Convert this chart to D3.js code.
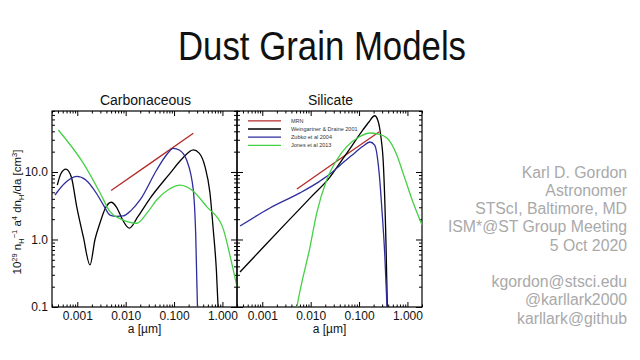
<!DOCTYPE html>
<html>
<head>
<meta charset="utf-8">
<script src="https://cdn.jsdelivr.net/npm/d3@7"></script>
<style>
  html, body { margin: 0; padding: 0; background: #fff; }
  svg { display: block; font-family: "Liberation Sans", Arial, sans-serif; }
</style>
</head>
<body>
<svg id="chart" width="640" height="360"></svg>
<script>
// ---------- data ----------
const xTickValues = [0.001, 0.01, 0.1, 1];
const xTickLabels = ["0.001", "0.010", "0.100", "1.000"];
const yTickValues = [0.1, 1, 10];
const yTickLabels = ["0.1", "1.0", "10.0"];

const seriesNames = ["MRN", "Weingartner & Draine 2001", "Zubko et al 2004", "Jones et al 2013"];

// Carbonaceous panel: [grain radius a (µm), 10^29 nH^-1 a^4 dn/da]
const carbMRN = [[0.005, 5.3], [0.035, 14], [0.25, 37.5]];
const carbWD01 = [[3.86e-4, 6.4], [4.6e-4, 9.5], [5.8e-4, 11], [7.5e-4, 8.5], [9.7e-4, 3.1],
  [0.00133, 1.1], [0.00183, 0.42], [0.00232, 1.0], [0.00294, 1.75], [0.0038, 2.9], [0.005, 3.56],
  [0.0065, 3.0], [0.0085, 2.0], [0.0119, 1.47], [0.018, 2.2], [0.0319, 4.07], [0.0824, 9.55],
  [0.15, 16], [0.25, 21.2], [0.33, 19], [0.436, 12], [0.55, 5], [0.647, 1.38], [0.75, 0.35], [0.84, 0.06]];
const carbZubko = [[3.46e-4, 4.56], [5.5e-4, 6.8], [9.7e-4, 8.6], [0.0015, 7.6], [0.0025, 4.8],
  [0.0035, 3.2], [0.00474, 2.3], [0.0065, 2.2], [0.0089, 2.23], [0.013, 2.7], [0.0198, 3.85],
  [0.0437, 10.7], [0.07, 18], [0.0965, 22.4], [0.13, 21], [0.182, 15], [0.25, 5.4], [0.28, 1.2], [0.31, 0.06]];
const carbJones = [[4.05e-4, 41.9], [0.00133, 13.5], [0.003, 4.8], [0.00474, 2.58], [0.008, 2.0],
  [0.0169, 1.74], [0.028, 2.5], [0.0437, 3.85], [0.08, 5.6], [0.133, 6.4], [0.25, 5.2],
  [0.473, 3.06], [1.0, 1.55], [1.5, 0.5], [2.0, 0.2]];

// Silicate panel
const silMRN = [[0.0052, 5.6], [0.035, 14.5], [0.258, 39]];
const silWD01 = [[3.46e-4, 0.33], [0.001, 0.74], [0.003, 1.7], [0.01, 4.2], [0.025, 8.4],
  [0.04, 13.5], [0.07, 24], [0.12, 42], [0.16, 55], [0.21, 68], [0.245, 58], [0.28, 35],
  [0.32, 12], [0.36, 0.9], [0.39, 0.06]];
const silZubko = [[3.46e-4, 1.58], [0.00144, 2.93], [0.006, 4.9], [0.015, 7.2], [0.025, 9.3],
  [0.04, 12.5], [0.07, 17.5], [0.12, 24], [0.167, 27.8], [0.21, 25], [0.26, 9.7], [0.3, 2.5],
  [0.34, 0.6], [0.39, 0.06]];
const silJones = [[0.0048, 0.07], [0.0052, 0.1], [0.0097, 0.78], [0.0133, 2.44], [0.0214, 7.6],
  [0.0345, 15], [0.0555, 23.7], [0.1, 33], [0.167, 37.8], [0.25, 36.5], [0.378, 31.8],
  [0.6, 18], [0.81, 9.7], [1.2, 4.2], [2.0, 1.64]];

const panelTitles = ["Carbonaceous", "Silicate"];
const infoLines = ["Karl D. Gordon", "Astronomer", "STScI, Baltimore, MD", "ISM*@ST Group Meeting",
  "5 Oct 2020", "", "kgordon@stsci.edu", "@karllark2000", "karllark@github"];

// ---------- styles / layout ----------
const colors = ["#b32a2a", "#000000", "#2d2d9c", "#45d045"];
const svg = d3.select("#chart");
const pTop = 111, pBottom = 307, pw = 185;
const panelX = [52, 237];

svg.append("text").attr("x", 322).attr("y", 60).attr("text-anchor", "middle")
  .attr("font-size", 40).attr("textLength", 288).attr("lengthAdjust", "spacingAndGlyphs")
  .attr("fill", "#111").text("Dust Grain Models");

function minorTicks(lo, hi) {
  const out = [];
  for (let e = -5; e <= 3; e++) {
    for (let m = 2; m <= 9; m++) {
      const v = m * Math.pow(10, e);
      if (v >= lo * 0.999 && v <= hi * 1.001) out.push(v);
    }
  }
  return out;
}

function drawPanel(idx, data) {
  const x0 = panelX[idx];
  const x = d3.scaleLog().domain([3e-4, 2]).range([x0, x0 + pw]);
  const y = d3.scaleLog().domain([0.1, 80]).range([pBottom, pTop]);
  const g = svg.append("g");

  const clipId = "clip" + idx;
  svg.append("clipPath").attr("id", clipId).append("rect")
    .attr("x", x0).attr("y", pTop).attr("width", pw).attr("height", pBottom - pTop);

  const xMinor = minorTicks(3e-4, 2);
  const yMinor = minorTicks(0.1, 80);

  const style = sel => {
    sel.select(".domain").remove();
    sel.selectAll("line").attr("stroke", "#000").attr("stroke-width", 1);
    sel.selectAll("text").attr("font-family", "Liberation Sans, Arial, sans-serif")
      .attr("font-size", 12).attr("fill", "#111");
  };

  // bottom axis
  g.append("g").attr("transform", `translate(0,${pBottom})`)
    .call(d3.axisBottom(x).tickValues(xTickValues).tickFormat((d, i) => xTickLabels[i])
      .tickSizeInner(-5).tickSizeOuter(0).tickPadding(4)).call(style);
  g.append("g").attr("transform", `translate(0,${pBottom})`)
    .call(d3.axisBottom(x).tickValues(xMinor).tickFormat("").tickSizeInner(-2.5).tickSizeOuter(0)).call(style);
  // top axis
  g.append("g").attr("transform", `translate(0,${pTop})`)
    .call(d3.axisTop(x).tickValues(xTickValues).tickFormat("").tickSizeInner(-5).tickSizeOuter(0)).call(style);
  g.append("g").attr("transform", `translate(0,${pTop})`)
    .call(d3.axisTop(x).tickValues(xMinor).tickFormat("").tickSizeInner(-2.5).tickSizeOuter(0)).call(style);
  // left axis
  g.append("g").attr("transform", `translate(${x0},0)`)
    .call(d3.axisLeft(y).tickValues(yTickValues)
      .tickFormat(idx === 0 ? (d, i) => yTickLabels[i] : "")
      .tickSizeInner(-6).tickSizeOuter(0).tickPadding(4)).call(style);
  g.append("g").attr("transform", `translate(${x0},0)`)
    .call(d3.axisLeft(y).tickValues(yMinor).tickFormat("").tickSizeInner(-3).tickSizeOuter(0)).call(style);
  // right axis
  g.append("g").attr("transform", `translate(${x0 + pw},0)`)
    .call(d3.axisRight(y).tickValues(yTickValues).tickFormat("").tickSizeInner(-6).tickSizeOuter(0)).call(style);
  g.append("g").attr("transform", `translate(${x0 + pw},0)`)
    .call(d3.axisRight(y).tickValues(yMinor).tickFormat("").tickSizeInner(-3).tickSizeOuter(0)).call(style);

  // frame
  g.append("rect").attr("x", x0).attr("y", pTop).attr("width", pw).attr("height", pBottom - pTop)
    .attr("fill", "none").attr("stroke", "#000").attr("stroke-width", 1.2);

  // curves
  const line = d3.line().x(d => x(d[0])).y(d => y(d[1])).curve(d3.curveMonotoneX);
  const lg = g.append("g").attr("clip-path", `url(#${clipId})`);
  data.forEach((s, i) => {
    lg.append("path").datum(s).attr("d", line).attr("fill", "none")
      .attr("stroke", colors[i]).attr("stroke-width", 1.3);
  });

  // titles
  g.append("text").attr("x", x0 + pw / 2 + 1).attr("y", 105).attr("text-anchor", "middle")
    .attr("font-size", 14).attr("fill", "#111").text(panelTitles[idx]);
  g.append("text").attr("x", x0 + pw / 2).attr("y", 333).attr("text-anchor", "middle")
    .attr("font-size", 12).attr("fill", "#111").text("a [µm]");
}

drawPanel(0, [carbMRN, carbWD01, carbZubko, carbJones]);
drawPanel(1, [silMRN, silWD01, silZubko, silJones]);

// legend (silicate panel)
const leg = svg.append("g");
seriesNames.forEach((name, i) => {
  const ly = 120.8 + i * 8.2;
  leg.append("line").attr("x1", 248).attr("x2", 281).attr("y1", ly).attr("y2", ly)
    .attr("stroke", colors[i]).attr("stroke-width", 1.3);
  leg.append("text").attr("x", 291).attr("y", ly + 2).attr("font-size", 5.5).attr("fill", "#333").text(name);
});

// y-axis label with sub/superscripts
const yl = svg.append("text").attr("transform", "translate(21,212) rotate(-90)")
  .attr("text-anchor", "middle").attr("font-size", 11.5).attr("fill", "#111");
const parts = [["10", 0], ["29", 1], [" n", 0], ["H", -1], ["−1", 1], [" a", 0], ["4", 1],
  [" dn", 0], ["H", -1], ["/da [cm", 0], ["3", 1], ["]", 0]];
let cur = 0;
parts.forEach(([t, p]) => {
  const shift = p === 1 ? -4.5 : (p === -1 ? 2.5 : 0);
  yl.append("tspan").attr("dy", shift - cur).attr("font-size", p === 0 ? 11.5 : 7.5).text(t);
  cur = shift;
});

// right-hand text block
infoLines.forEach((t, i) => {
  if (!t) return;
  svg.append("text").attr("x", 627).attr("y", 177.5 + i * 18.25).attr("text-anchor", "end")
    .attr("font-size", 15.8).attr("fill", "#a9a9a9").text(t);
});
</script>
</body>
</html>
